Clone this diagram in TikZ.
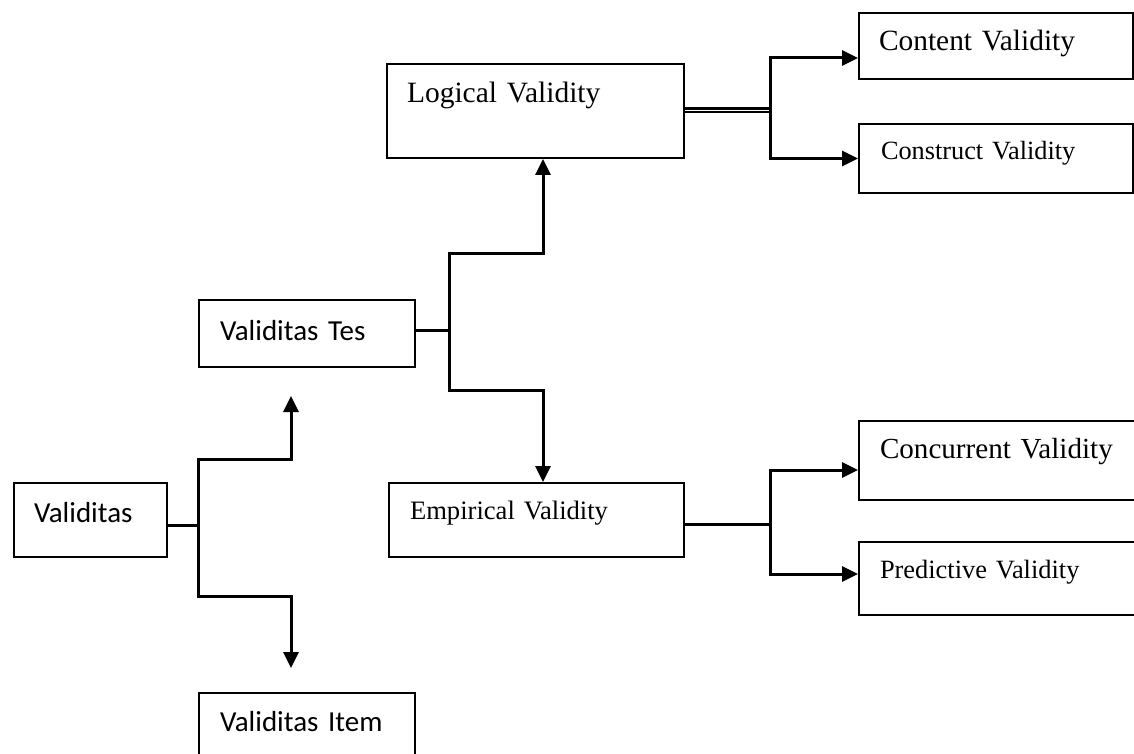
\documentclass[tikz,border=0pt]{standalone}
\usepackage{fontspec}
\setmainfont{Liberation Serif}
\newfontfamily\calib{Carlito}
\usetikzlibrary{arrows.meta}
\tikzset{
  box/.style={draw, line width=2pt, anchor=north west, inner ysep=0pt, align=left},
  conn/.style={line width=3pt},
  arr/.style={conn, -{Triangle[length=16pt,width=15pt]}},
  dbl/.style={double, line width=2.2pt, double distance=0.8pt},
  tms/.style={font=\fontsize{#1}{#1}\selectfont},
  cal/.style={font=\calib\fontsize{#1}{#1}\selectfont}
}
\begin{document}
\begin{tikzpicture}[x=1pt,y=-1pt]
\useasboundingbox[fill=white] (0,0) rectangle (1134,754);
% nodes
\node[box, tms=29.5, inner xsep=20pt, text width=257pt, text height=39pt, text depth=55pt] (logical) at (386,63) {Logical Validity};
\node[box, tms=29.4, inner xsep=20pt, text width=234pt, text height=38pt, text depth=28pt] (content) at (858,12) {Content Validity};
\node[box, tms=26.3, inner xsep=22pt, text width=230pt, text height=36pt, text depth=33pt] (construct) at (858,123) {Construct Validity};
\node[box, cal=29, inner xsep=21pt, text width=174pt, text height=40pt, text depth=27pt] (vt) at (198,299) {Validitas Tes};
\node[box, tms=26.6, inner xsep=21pt, text width=253pt, text height=36pt, text depth=38pt] (emp) at (388,482) {Empirical Validity};
\node[box, tms=29.1, inner xsep=21pt, text width=248pt, text height=37pt, text depth=42pt] (conc) at (858,420) {Concurrent Validity};
\node[box, tms=26.4, inner xsep=21pt, text width=248pt, text height=36pt, text depth=37pt] (pred) at (858,541) {Predictive Validity};
\node[box, cal=29, inner xsep=20pt, text width=113pt, text height=39pt, text depth=35pt] (val) at (13,482) {Validitas};
\node[box, cal=29, inner xsep=21pt, text width=174pt, text height=38pt, text depth=42pt] (item) at (198,692) {Validitas Item};
% junctions
\coordinate (j0) at (198,525);
\coordinate (b1) at (291,459);
\coordinate (b2) at (291,596);
\coordinate (j1) at (449,330);
\coordinate (a1) at (543,253);
\coordinate (a2) at (543,390);
\coordinate (k1) at (770,110);
\coordinate (k2) at (770,524);
% Validitas
\draw[conn] (val.east |- j0) -- (j0);
\draw[arr, shorten >=28pt] (j0) |- (b1) -- (b1 |- vt.south);
\draw[arr, shorten >=24pt] (j0) |- (b2) -- (b2 |- item.north);
% Validitas Tes
\draw[conn] (vt.east |- j1) -- (j1);
\draw[arr] (j1) |- (a1) -- (a1 |- logical.south);
\draw[arr] (j1) |- (a2) -- (a2 |- emp.north);
% Logical
\draw[dbl] (logical.east |- k1) -- (k1);
\draw[arr] (k1) |- ([yshift=-12pt]content.west);
\draw[arr] (k1) |- (construct.west);
% Empirical
\draw[conn] (emp.east |- k2) -- (k2);
\draw[arr] (k2) |- ([yshift=-9.5pt]conc.west);
\draw[arr] (k2) |- ([yshift=4.5pt]pred.west);
\end{tikzpicture}
\end{document}
